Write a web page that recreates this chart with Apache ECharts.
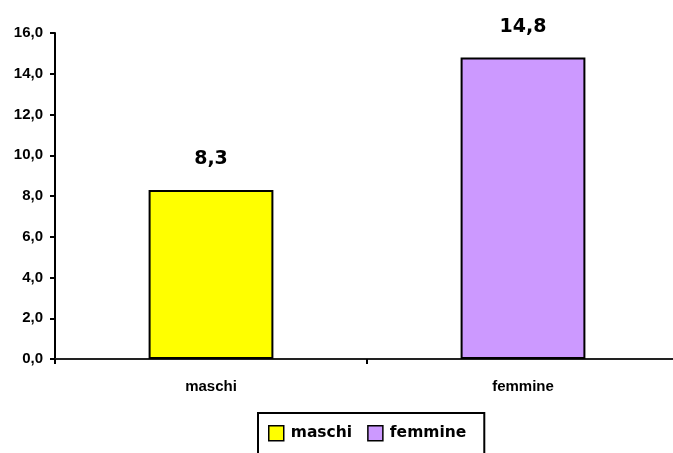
<!DOCTYPE html>
<html><head><meta charset="utf-8">
<script src="https://cdn.jsdelivr.net/npm/echarts@6/dist/echarts.min.js"></script>
<style>html,body{margin:0;padding:0;background:#fff;overflow:hidden}#c{width:673px;height:453px}</style>
</head><body><div id="c"></div>
<script>
const categories = ['maschi', 'femmine'];
const values = [8.3, 14.8];
const colors = ['#FFFF00', '#CC99FF'];
const yTicks = [0, 2, 4, 6, 8, 10, 12, 14, 16];

const chart = echarts.init(document.getElementById('c'));
const series = categories.map((name, i) => ({
  name: name,
  type: 'bar',
  stack: 'all',
  barWidth: '40%',
  itemStyle: { color: colors[i], borderColor: '#000', borderWidth: 2 },
  label: {
    show: true, position: 'top', distance: 21,
    fontFamily: 'DejaVu Sans', fontWeight: 'bold', fontSize: 19, color: '#000',
    formatter: p => p.value == null ? '' : String(p.value.toFixed(1)).replace('.', ',')
  },
  data: categories.map((c, j) => j === i ? values[i] : null)
}));

chart.setOption({
  animation: false,
  grid: { left: 55, width: 624, top: 33, bottom: 94, containLabel: false, outerBoundsMode: 'none' },
  xAxis: {
    type: 'category', data: categories,
    axisLine: { lineStyle: { color: '#222', width: 2 } },
    axisTick: { show: true, length: 5, inside: false, lineStyle: { color: '#000', width: 2 } },
    axisLabel: { fontFamily: 'Liberation Sans', fontWeight: 'bold', fontSize: 15, color: '#000', margin: 20 }
  },
  yAxis: {
    type: 'value', min: yTicks[0], max: yTicks[yTicks.length - 1], interval: 2,
    splitLine: { show: false },
    axisLine: { show: true, lineStyle: { color: '#000', width: 2 } },
    axisTick: { show: true, length: 5, lineStyle: { color: '#000', width: 2 } },
    axisLabel: { fontFamily: 'Liberation Sans', fontWeight: 'bold', fontSize: 15, color: '#000', margin: 12,
      formatter: v => v.toFixed(1).replace('.', ',') }
  },
  legend: {
    left: 258, top: 413,
    data: categories,
    itemWidth: 15, itemHeight: 15, itemGap: 15,
    icon: 'rect',
    borderColor: '#000', borderWidth: 2,
    padding: [12, 18, 14, 10],
    textStyle: { fontFamily: 'DejaVu Sans', fontWeight: 'bold', fontSize: 15.5, color: '#000', padding: [0, 0, 0, 2] },
    itemStyle: { borderColor: '#000', borderWidth: 1.5 }
  },
  series: series
});
</script></body></html>
